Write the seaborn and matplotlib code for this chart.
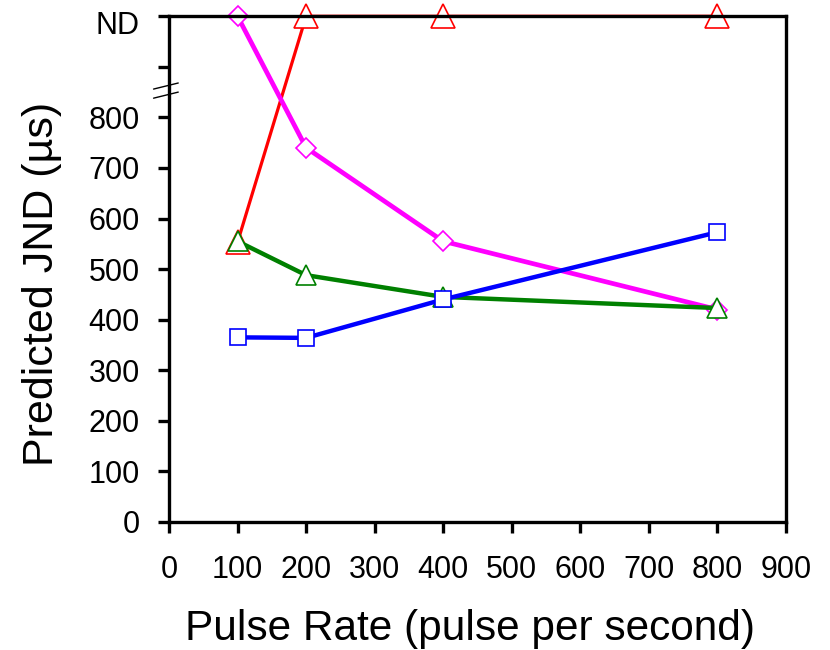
import matplotlib
matplotlib.use("Agg")
import matplotlib.pyplot as plt
import matplotlib.transforms as mtransforms
import seaborn as sns
import pandas as pd

sns.set_theme(style="white")
plt.rcParams['font.family'] = ['Liberation Sans', 'DejaVu Sans']

ND = 1000  # plotted position of "ND" (not determined)

pulse_rate = [100, 200, 400, 800]
red_jnd = [553, ND, ND, ND]
magenta_jnd = [ND, 740, 555, 420]
green_jnd = [555, 488, 445, 423]
blue_jnd = [365, 364, 440, 573]

x_ticks = [0, 100, 200, 300, 400, 500, 600, 700, 800, 900]
y_ticks = [0, 100, 200, 300, 400, 500, 600, 700, 800, 900, ND]
y_tick_labels = ["0", "100", "200", "300", "400", "500", "600", "700", "800", "", "ND"]

series = [
    ("red", red_jnd, "#ff0000", "^", 17, 2.3),
    ("magenta", magenta_jnd, "#ff00ff", "D", 10, 3.4),
    ("green", green_jnd, "#008000", "^", 15, 3.2),
    ("blue", blue_jnd, "#0000ff", "s", 12, 3.2),
]

fig = plt.figure(figsize=(8.3, 6.5), dpi=100)
ax = fig.add_axes([0.2036, 0.197, 0.7434, 0.778])

for name, vals, col, mk, ms, lw in series:
    df = pd.DataFrame({"rate": pulse_rate, "jnd": vals})
    sns.lineplot(data=df, x="rate", y="jnd", ax=ax, color=col, linewidth=lw,
                 marker=mk, markersize=ms, markerfacecolor="white",
                 markeredgecolor=col, markeredgewidth=1.2, clip_on=False,
                 estimator=None, sort=False)

ax.set_xlim(0, 900)
ax.set_ylim(0, ND)
ax.set_xticks(x_ticks)
ax.set_xticklabels([str(v) for v in x_ticks])
ax.set_yticks(y_ticks)
ax.set_yticklabels(y_tick_labels)

for s in ax.spines.values():
    s.set_visible(True)
    s.set_color("black")
    s.set_linewidth(2.4)

ax.tick_params(axis="both", which="major", direction="out", length=8, width=2.4,
               colors="black", labelsize=22)
ax.tick_params(axis="x", bottom=True, top=False, pad=16)
ax.tick_params(axis="y", left=True, right=False, pad=13)

# "ND" label sits slightly below its tick in the reference
nd_label = ax.get_yticklabels()[-1]
nd_label.set_transform(nd_label.get_transform() +
                       mtransforms.ScaledTranslation(0, -6 / 100, fig.dpi_scale_trans))

ax.set_xlabel("Pulse Rate (pulse per second)", fontsize=30.5, color="black")
ax.set_ylabel("Predicted JND (µs)", fontsize=31, color="black")
ax.xaxis.set_label_coords(0.488, -0.172)
ax.yaxis.set_label_coords(-0.1734, 0.470)
ax.grid(False)

# axis break marks on the left spine
for dy in (-0.012, 0.006):
    ax.plot([-0.025, 0.015], [0.856 + dy - 0.006, 0.856 + dy + 0.006],
            transform=ax.transAxes, color="black", linewidth=1.0, clip_on=False)

fig.savefig("out.png", dpi=100)
